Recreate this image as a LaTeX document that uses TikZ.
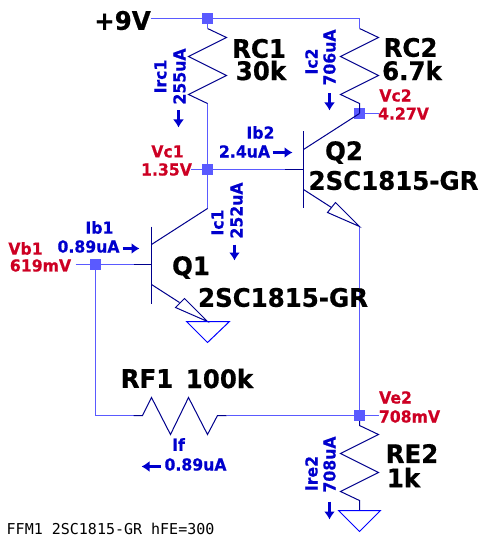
\documentclass[tikz,border=0pt]{standalone}
\usepackage{fontspec}
\setmainfont{DejaVu Sans}
\newfontfamily\notefont{DejaVu Sans Mono}
\newfontfamily\ampfont[FakeBold=0.5,FakeStretch=0.95]{DejaVu Sans Bold}
\newfontfamily\bigfont[FakeBold=0.6,FakeStretch=0.96]{DejaVu Sans Bold}
\usepackage{xcolor}
\definecolor{WireBlue}{RGB}{90,90,255}
\definecolor{PartBlue}{RGB}{0,0,140}
\definecolor{AmpBlue}{RGB}{0,0,205}
\definecolor{VoltRed}{RGB}{205,0,35}
\usetikzlibrary{arrows.meta}
\tikzset{
  wire/.style={WireBlue, line width=1.1pt},
  part/.style={PartBlue, line width=1pt},
  gnd/.style={blue, line width=1pt},
  junction/.style={fill=WireBlue, minimum size=11pt, inner sep=0pt},
  volt/.style={text=VoltRed, font=\ampfont\fontsize{16.5}{16.5}\selectfont, inner sep=0pt},
  amp/.style={text=AmpBlue, font=\ampfont\fontsize{16.5}{16.5}\selectfont, inner sep=0pt},
  big/.style={text=black, font=\bigfont\fontsize{25.5}{25.5}\selectfont, inner sep=0pt},
  flow/.style={AmpBlue, line width=3pt, -{Latex[length=8pt,width=11pt]}},
}
\begin{document}
\begin{tikzpicture}[x=1pt, y=-1pt]
\useasboundingbox (-0.5, -0.5) rectangle (479.5, 539.5);

% junctions
\node[junction] (top) at (207, 18) {};
\node[junction] (vc1) at (207, 169) {};
\node[junction] (vc2) at (359, 113) {};
\node[junction] (vb1) at (95, 264) {};
\node[junction] (ve2) at (359, 415) {};

% bends and part ends
\coordinate (supply) at (150, 18);
\coordinate (corner) at (359, 18);
\coordinate (rc1a) at (207, 28);
\coordinate (rc1b) at (207, 103);
\coordinate (rc2a) at (359, 28);
\coordinate (rc2b) at (359, 103);
\coordinate (c1) at (207, 208);
\coordinate (e1) at (207, 321);
\coordinate (c2) at (359, 113);
\coordinate (e2) at (359, 226);
\coordinate (b1) at (133, 264);
\coordinate (b2) at (284, 169);
\coordinate (fbcorner) at (95, 415);
\coordinate (rf1a) at (133, 415);
\coordinate (rf1b) at (226, 415);
\coordinate (re2a) at (359, 425);
\coordinate (re2b) at (359, 500);
\coordinate (gnd2) at (359, 510);
\coordinate (vc1stub) at (190, 169);
\coordinate (vc2stub) at (378, 113);
\coordinate (ve2stub) at (378, 415);
\coordinate (vb1stub) at (75, 264);

% wires
\draw[wire] (supply) -- (top) -- (corner) -- (rc2a);
\draw[wire] (top) -- (rc1a);
\draw[wire] (rc1b) -- (vc1) -- (c1);
\draw[wire] (vc1stub) -- (vc1) -- (b2);
\draw[wire] (vc2) -- (vc2stub);
\draw[wire] (e2) -- (ve2) -- (ve2stub);
\draw[wire] (vb1stub) -- (vb1) -- (b1);
\draw[wire] (vb1) -- (fbcorner) -- (rf1a);
\draw[wire] (rf1b) -- (ve2);

% resistors
\draw[part] (rc1a) -- ++(19, 9) -- ++(-38, 19) -- ++(38, 19) -- ++(-38, 19) -- (rc1b);
\draw[part] (rc2a) -- ++(19, 9) -- ++(-38, 19) -- ++(38, 19) -- ++(-38, 19) -- (rc2b) -- (c2);
\draw[part] (ve2) -- (re2a) -- ++(19, 9) -- ++(-38, 19) -- ++(38, 19) -- ++(-38, 19) -- (re2b) -- (gnd2);
\draw[part] (rf1a) -- (142, 415) -- (151, 397) -- (170, 434) -- (188, 397) -- (207, 434) -- (217, 415) -- (rf1b);

% Q1
\draw[part] (151, 226) -- (151, 303);
\draw[part] (b1) -- (151, 264);
\draw[part] (c1) -- (151, 244);
\draw[part] (151, 284) -- (179, 302);
\draw[part] (e1) -- (175, 307) -- (184, 298) -- cycle;

% Q2
\draw[part] (302.5, 131) -- (302.5, 207);
\draw[part] (b2) -- (302.5, 169);
\draw[part] (c2) -- (303, 149);
\draw[part] (303, 189) -- (331, 207);
\draw[part] (e2) -- (327, 212) -- (335, 202) -- cycle;

% grounds
\draw[gnd] (e1) ++(-21, 0) -- ++(43, 0) -- (207, 342) -- cycle;
\draw[gnd] (gnd2) ++(-21, 0) -- ++(42, 0) -- (359, 531) -- cycle;

% part labels
\node[big] (lab9v) at (122, 20) {+9V};
\node[big] (labrc1) at (258.5, 48) {RC1};
\node[big] (valrc1) at (260.5, 70) {30k};
\node[big] (labrc2) at (410, 47) {RC2};
\node[big] (valrc2) at (411.5, 70) {6.7k};
\node[big] (labq2) at (343.5, 152) {Q2};
\node[big] (typeq2) at (393, 180) {2SC1815-GR};
\node[big] (labq1) at (190.5, 267) {Q1};
\node[big] (typeq1) at (282.5, 297) {2SC1815-GR};
\node[big] (labrf1) at (146.5, 378) {RF1};
\node[big] (valrf1) at (219, 378) {100k};
\node[big] (labre2) at (411.5, 453) {RE2};
\node[big] (valre2) at (403, 477) {1k};

% voltages
\node[volt] (vc1name) at (167, 151) {Vc1};
\node[volt] (vc1val) at (166, 169) {1.35V};
\node[volt] (vc2name) at (395, 95) {Vc2};
\node[volt] (vc2val) at (403, 113) {4.27V};
\node[volt] (vb1name) at (25, 248) {Vb1};
\node[volt] (vb1val) at (40, 265) {619mV};
\node[volt] (ve2name) at (395, 397) {Ve2};
\node[volt] (ve2val) at (409, 416) {708mV};

% currents
\node[amp, rotate=90] (irc1name) at (160, 76) {Irc1};
\node[amp, rotate=90] (irc1val) at (179, 76) {255uA};
\node[amp, rotate=90] (ic1name) at (217, 222) {Ic1};
\node[amp, rotate=90] (ic1val) at (236, 210) {252uA};
\node[amp, rotate=90] (ic2name) at (311, 61) {Ic2};
\node[amp, rotate=90] (ic2val) at (329, 57) {706uA};
\node[amp, rotate=90] (ire2name) at (311, 473) {Ire2};
\node[amp, rotate=90] (ire2val) at (329, 464) {708uA};
\node[amp] (ib1name) at (99, 227) {Ib1};
\node[amp] (ib1val) at (88, 246) {0.89uA};
\node[amp] (ib2name) at (260, 132) {Ib2};
\node[amp] (ib2val) at (244, 151) {2.4uA};
\node[amp] (ifname) at (178, 444) {If};
\node[amp] (ifval) at (195, 464) {0.89uA};

\coordinate (irc1a) at (178, 110);
\coordinate (irc1b) at (178, 127);
\coordinate (ic1a) at (234, 244);
\coordinate (ic1b) at (234, 260);
\coordinate (ic2a) at (329, 93);
\coordinate (ic2b) at (329, 110);
\coordinate (ire2a) at (329, 501);
\coordinate (ire2b) at (329, 519);
\coordinate (ib1a) at (122, 248);
\coordinate (ib1b) at (139, 248);
\coordinate (ib2a) at (272, 152);
\coordinate (ib2b) at (292, 152);
\coordinate (ifa) at (160, 466);
\coordinate (ifb) at (141, 466);
\draw[flow] (irc1a) -- (irc1b);
\draw[flow] (ic1a) -- (ic1b);
\draw[flow] (ic2a) -- (ic2b);
\draw[flow] (ire2a) -- (ire2b);
\draw[flow] (ib1a) -- (ib1b);
\draw[flow] (ib2a) -- (ib2b);
\draw[flow] (ifa) -- (ifb);

\node[anchor=west, inner sep=0pt, font=\notefont\fontsize{15}{15}\selectfont] (note) at (6, 528) {FFM1 2SC1815-GR hFE=300};
\end{tikzpicture}
\end{document}
